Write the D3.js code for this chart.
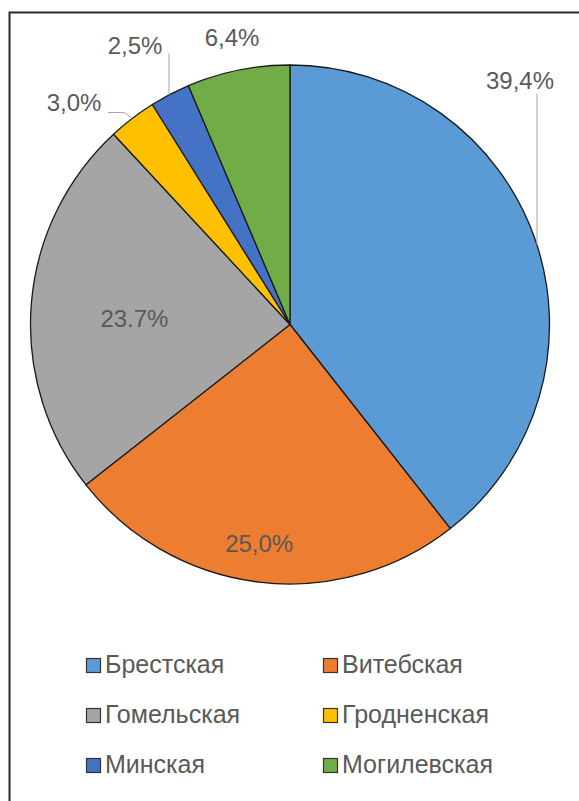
<!DOCTYPE html>
<html>
<head>
<meta charset="utf-8">
<script src="https://cdn.jsdelivr.net/npm/d3@7/dist/d3.min.js"></script>
<style>
  html, body { margin: 0; padding: 0; background: #ffffff; }
  svg { display: block; }
  text { font-family: "Liberation Sans", Arial, sans-serif; }
</style>
</head>
<body>
<svg id="chart" width="579" height="801"></svg>
<script>
// Regions and their shares (%)
const regions = ["Брестская", "Витебская", "Гомельская", "Гродненская", "Минская", "Могилевская"];
const shares = [39.4, 25.0, 23.7, 3.0, 2.5, 6.4];
const shareLabels = ["39,4%", "25,0%", "23.7%", "3,0%", "2,5%", "6,4%"];
const palette = ["#5b9bd5", "#ed7d31", "#a5a5a5", "#ffc000", "#4472c4", "#70ad47"];

const W = 579, H = 801;
const cx = 290, cy = 324.5, R = 259.5;

const svg = d3.select("#chart");

// Chart frame (runs off the right and bottom edges)
svg.append("rect")
  .attr("x", 9.5).attr("y", 12.5)
  .attr("width", 700).attr("height", 900)
  .attr("fill", "#ffffff")
  .attr("stroke", "#2b2b2b")
  .attr("stroke-width", 2);

const color = d3.scaleOrdinal().domain(regions).range(palette);

const data = regions.map((r, i) => ({ region: r, value: shares[i], label: shareLabels[i] }));

const pie = d3.pie().value(d => d.value).sort(null);
const arcs = pie(data);
const arc = d3.arc().innerRadius(0).outerRadius(R);

const g = svg.append("g").attr("transform", `translate(${cx},${cy})`);

g.selectAll("path.slice")
  .data(arcs)
  .join("path")
  .attr("class", "slice")
  .attr("d", arc)
  .attr("fill", d => color(d.data.region))
  .attr("stroke", "#1a1a1a")
  .attr("stroke-width", 1.3)
  .attr("stroke-linejoin", "round");

// Point on the rim at a given x offset (upper half)
const rimY = dx => -Math.sqrt(R * R - dx * dx);
const polar = (a, r) => [r * Math.sin(a), -r * Math.cos(a)];
const mid = d => (d.startAngle + d.endAngle) / 2;

// Label placement: inside labels sit along the bisector, outside ones have leaders
const placement = {
  "Брестская":  { type: "out", tx: 230, ty: -236, leader: "vertical", lx: 247, ly: -231 },
  "Витебская":  { type: "in", rf: 0.855, dAng: 0.02 },
  "Гомельская": { type: "in", rf: 0.60, dAng: -0.04 },
  "Гродненская":{ type: "out", tx: -216, ty: -214, leader: "elbow", lx: -182, ly: -212 },
  "Минская":    { type: "out", tx: -155, ty: -271, leader: "vertical", lx: -121, ly: -271 },
  "Могилевская":{ type: "out", tx: -58, ty: -279, leader: "none" }
};

const labels = g.append("g").attr("class", "labels");

arcs.forEach(d => {
  const p = placement[d.data.region];
  let x, y;
  if (p.type === "in") {
    [x, y] = polar(mid(d) + p.dAng, R * p.rf);
    y += 8;
  } else {
    x = p.tx; y = p.ty;
  }
  labels.append("text")
    .attr("x", x).attr("y", y)
    .attr("text-anchor", "middle")
    .attr("font-size", 24)
    .attr("fill", "#595959")
    .text(d.data.label);

  if (p.type === "out" && p.leader === "vertical") {
    labels.append("line")
      .attr("x1", p.lx).attr("y1", p.ly)
      .attr("x2", p.lx).attr("y2", rimY(p.lx))
      .attr("stroke", "#a6a6a6").attr("stroke-width", 1);
  } else if (p.type === "out" && p.leader === "elbow") {
    const [ex, ey] = polar(mid(d), R);
    labels.append("polyline")
      .attr("points", `${p.lx},${p.ly} ${ex - 8},${p.ly} ${ex},${ey}`)
      .attr("fill", "none")
      .attr("stroke", "#a6a6a6").attr("stroke-width", 1);
  }
});

// Legend: two columns, three rows
const legend = svg.append("g").attr("class", "legend");
const colX = [86, 323];
const rowY = [673, 723, 773];

data.forEach((d, i) => {
  const col = i % 2, row = Math.floor(i / 2);
  const item = legend.append("g").attr("transform", `translate(${colX[col]},${rowY[row]})`);
  item.append("rect")
    .attr("x", 0.5).attr("y", -14.5)
    .attr("width", 14).attr("height", 14)
    .attr("fill", color(d.region))
    .attr("stroke", "#333333").attr("stroke-width", 1.2);
  item.append("text")
    .attr("x", 19).attr("y", 0)
    .attr("font-size", 25)
    .attr("fill", "#595959")
    .text(d.region);
});
</script>
</body>
</html>
